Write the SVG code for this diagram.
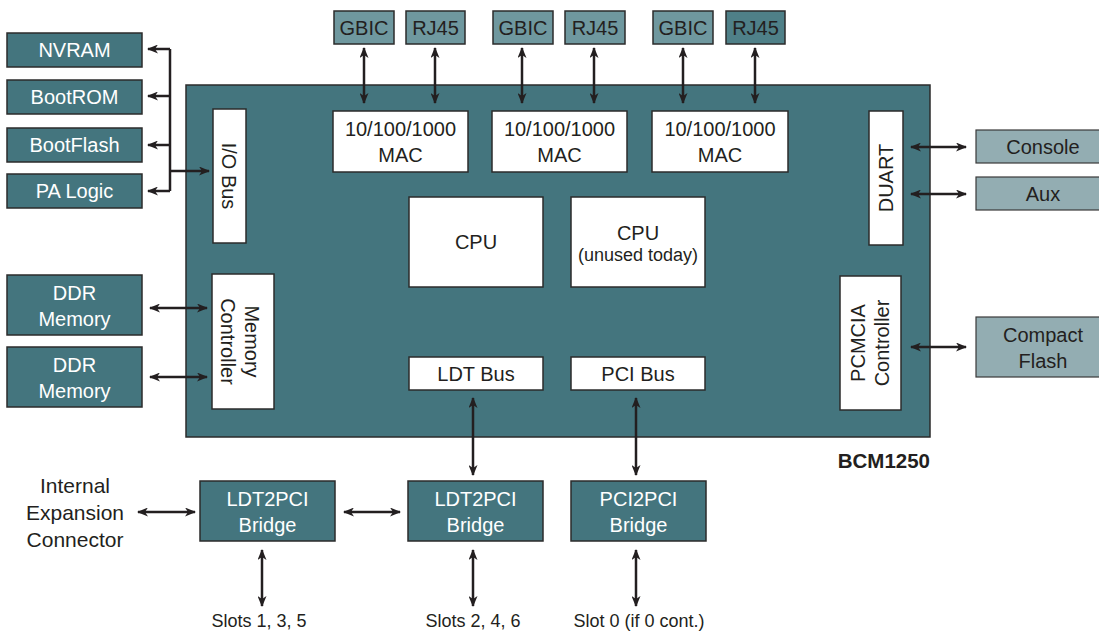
<svg xmlns="http://www.w3.org/2000/svg" width="1099" height="631" viewBox="0 0 1099 631">
<defs>
<marker id="ah" viewBox="0 0 11 9" refX="10" refY="4.5" markerWidth="11" markerHeight="9" markerUnits="userSpaceOnUse" orient="auto-start-reverse"><path d="M0,0 L11,4.5 L0,9 L3,4.5 z" fill="#231f20"/></marker>
<style>
text{font-family:"Liberation Sans",Arial,sans-serif;}
.dk{fill:#44757e;stroke:#2b2b2b;stroke-width:1.5;}
.md{fill:#6f989f;stroke:#2b2b2b;stroke-width:1.5;}
.lt{fill:#93adb2;stroke:#3a3a3a;stroke-width:1.2;}
.wh{fill:#ffffff;stroke:#2b2b2b;stroke-width:1.5;}
.tw{fill:#ffffff;font-size:20px;text-anchor:middle;}
.tb{fill:#231f20;font-size:20px;text-anchor:middle;}
.ts{fill:#231f20;font-size:18px;text-anchor:middle;}
.c{stroke:#231f20;stroke-width:2.5;fill:none;}
.ar{marker-end:url(#ah);}
.ab{marker-end:url(#ah);marker-start:url(#ah);}
</style>
</defs>

<g id="bcm1250">
<rect class="dk" x="186" y="85" width="744" height="352"/>
<text x="930" y="468" font-size="20.5" font-weight="bold" fill="#231f20" text-anchor="end">BCM1250</text>
</g>

<g id="nvram"><rect class="dk" x="7" y="33" width="135" height="34"/><text class="tw" x="74.5" y="57">NVRAM</text></g>
<g id="bootrom"><rect class="dk" x="7" y="80" width="135" height="34"/><text class="tw" x="74.5" y="104">BootROM</text></g>
<g id="bootflash"><rect class="dk" x="7" y="128" width="135" height="34"/><text class="tw" x="74.5" y="152">BootFlash</text></g>
<g id="palogic"><rect class="dk" x="7" y="174" width="135" height="34"/><text class="tw" x="74.5" y="198">PA Logic</text></g>

<g id="ddr1"><rect class="dk" x="7" y="275" width="135" height="60"/><text class="tw" x="74.5" y="300">DDR</text><text class="tw" x="74.5" y="326">Memory</text></g>
<g id="ddr2"><rect class="dk" x="7" y="347" width="135" height="60"/><text class="tw" x="74.5" y="372">DDR</text><text class="tw" x="74.5" y="398">Memory</text></g>

<g id="iobus"><rect class="wh" x="213" y="109" width="33" height="134"/><text class="tb" transform="translate(222,176) rotate(90)" font-size="19">I/O Bus</text></g>
<g id="memctrl"><rect class="wh" x="212" y="274" width="62" height="135"/><text class="tb" transform="translate(221,341.5) rotate(90)">Controller</text><text class="tb" transform="translate(245,341.5) rotate(90)">Memory</text></g>

<g id="gbic1"><rect class="md" x="334" y="11" width="60" height="33"/><text class="tb" x="364" y="35">GBIC</text></g>
<g id="rj451"><rect class="md" x="406" y="11" width="59" height="33"/><text class="tb" x="435.5" y="35">RJ45</text></g>
<g id="gbic2"><rect class="md" x="493" y="11" width="60" height="33"/><text class="tb" x="523" y="35">GBIC</text></g>
<g id="rj452"><rect class="md" x="565" y="11" width="60" height="33"/><text class="tb" x="595" y="35">RJ45</text></g>
<g id="gbic3"><rect class="md" x="653" y="11" width="60" height="33"/><text class="tb" x="683" y="35">GBIC</text></g>
<g id="rj453"><rect class="md" x="726" y="11" width="59" height="33" style="fill:#4f8088"/><text class="tb" x="755.5" y="35">RJ45</text></g>

<g id="mac1"><rect class="wh" x="333" y="111" width="135" height="61"/><text class="tb" x="400.5" y="136">10/100/1000</text><text class="tb" x="400.5" y="162">MAC</text></g>
<g id="mac2"><rect class="wh" x="492" y="111" width="135" height="61"/><text class="tb" x="559.5" y="136">10/100/1000</text><text class="tb" x="559.5" y="162">MAC</text></g>
<g id="mac3"><rect class="wh" x="652" y="111" width="136" height="61"/><text class="tb" x="720" y="136">10/100/1000</text><text class="tb" x="720" y="162">MAC</text></g>

<g id="cpu1"><rect class="wh" x="409" y="197" width="134" height="90"/><text class="tb" x="476" y="249" font-size="19">CPU</text></g>
<g id="cpu2"><rect class="wh" x="571" y="197" width="134" height="90"/><text class="tb" x="638" y="240" font-size="19">CPU</text><text class="ts" x="638" y="261">(unused today)</text></g>

<g id="ldtbus"><rect class="wh" x="409" y="357" width="134" height="33"/><text class="tb" x="476" y="381" font-size="19">LDT Bus</text></g>
<g id="pcibus"><rect class="wh" x="571" y="357" width="134" height="33"/><text class="tb" x="638" y="381" font-size="19">PCI Bus</text></g>

<g id="duart"><rect class="wh" x="869" y="111" width="34" height="134"/><text class="tb" transform="translate(893,178) rotate(-90)">DUART</text></g>
<g id="pcmcia"><rect class="wh" x="840" y="276" width="61" height="134"/><text class="tb" transform="translate(865,343) rotate(-90)">PCMCIA</text><text class="tb" transform="translate(889,343) rotate(-90)">Controller</text></g>

<g id="console"><rect class="lt" x="976" y="130" width="130" height="33"/><text class="tb" x="1043" y="154">Console</text></g>
<g id="aux"><rect class="lt" x="976" y="177" width="130" height="33"/><text class="tb" x="1043" y="201">Aux</text></g>
<g id="compactflash"><rect class="lt" x="976" y="317" width="130" height="60"/><text class="tb" x="1043" y="342">Compact</text><text class="tb" x="1043" y="368">Flash</text></g>

<g id="bridge1"><rect class="dk" x="200" y="481" width="135" height="60"/><text class="tw" x="267.5" y="506">LDT2PCI</text><text class="tw" x="267.5" y="532">Bridge</text></g>
<g id="bridge2"><rect class="dk" x="408" y="481" width="135" height="60"/><text class="tw" x="475.5" y="506">LDT2PCI</text><text class="tw" x="475.5" y="532">Bridge</text></g>
<g id="bridge3"><rect class="dk" x="571" y="481" width="135" height="60"/><text class="tw" x="638.5" y="506">PCI2PCI</text><text class="tw" x="638.5" y="532">Bridge</text></g>

<g id="expconn" fill="#231f20" font-size="21" text-anchor="middle">
<text x="75" y="493">Internal</text>
<text x="75" y="520">Expansion</text>
<text x="75" y="547">Connector</text>
</g>
<g id="slots" fill="#231f20" font-size="18" text-anchor="middle">
<text x="259" y="627">Slots 1, 3, 5</text>
<text x="473" y="627">Slots 2, 4, 6</text>
<text x="639" y="627">Slot 0 (if 0 cont.)</text>
</g>

<g id="connectors">
<path class="c" d="M170,49 V191"/>
<path class="c ar" d="M170,49 H148"/>
<path class="c ar" d="M170,96 H148"/>
<path class="c ar" d="M170,145 H148"/>
<path class="c ar" d="M170,191 H148"/>
<path class="c ar" d="M170,171 H209"/>
<path class="c ab" d="M150,308 H207"/>
<path class="c ab" d="M150,377 H207"/>
<path class="c ab" d="M364,48 V103"/>
<path class="c ab" d="M435,48 V103"/>
<path class="c ab" d="M522,48 V103"/>
<path class="c ab" d="M594,48 V103"/>
<path class="c ab" d="M683,48 V103"/>
<path class="c ab" d="M755,48 V103"/>
<path class="c ab" d="M911,147 H966"/>
<path class="c ab" d="M911,194 H966"/>
<path class="c ab" d="M911,347 H966"/>
<path class="c ab" d="M473,398 V475"/>
<path class="c ab" d="M636,398 V475"/>
<path class="c ab" d="M138,512 H195"/>
<path class="c ab" d="M344,512 H400"/>
<path class="c ab" d="M262,550 V606"/>
<path class="c ab" d="M473,550 V606"/>
<path class="c ab" d="M636,550 V606"/>
</g>
</svg>
